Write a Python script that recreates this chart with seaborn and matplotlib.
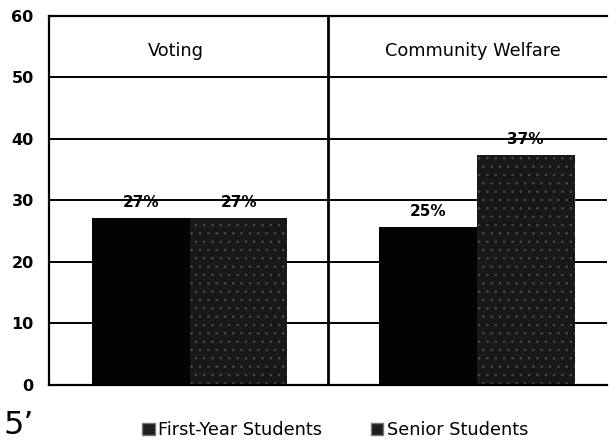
import matplotlib
matplotlib.use("Agg")
import matplotlib.pyplot as plt
import seaborn as sns
import pandas as pd
from matplotlib.patches import Patch

# --- data ---
categories = ["Voting", "Community Welfare"]
groups = ["First-Year Students", "Senior Students"]
first_year = [27.1, 25.6]
senior = [27.1, 37.4]
first_year_labels = ["27%", "25%"]
senior_labels = ["27%", "37%"]
y_ticks = [0, 10, 20, 30, 40, 50, 60]

df = pd.DataFrame({
    "Category": categories * 2,
    "Group": [groups[0]] * 2 + [groups[1]] * 2,
    "Value": first_year + senior,
})
labels = first_year_labels + senior_labels

sns.set_theme(style="white")
plt.rcParams['font.family'] = ['DejaVu Sans']
plt.rcParams['text.color'] = 'black'
plt.rcParams['ytick.color'] = 'black'
plt.rcParams['hatch.linewidth'] = 0.6

fig = plt.figure(figsize=(6.09, 4.40), dpi=100)
ax = fig.add_axes([0.0805, 0.126, 0.917, 0.838])

colors = {groups[0]: "#030303", groups[1]: "#181818"}
sns.barplot(data=df, x="Category", y="Value", hue="Group", order=categories,
            hue_order=groups, palette=colors, width=0.70, saturation=1,
            edgecolor="none", legend=False, ax=ax, zorder=2)

# speckled texture on the senior bars, small nudge of the groups
group_shift = [0.004, 0.032]
for bar, grp, cat in zip(ax.patches, df["Group"], df["Category"]):
    if grp == groups[1]:
        bar.set_hatch("..")
        bar.set_edgecolor("#4a4a4a")
        bar.set_linewidth(0)
    bar.set_x(bar.get_x() + group_shift[categories.index(cat)])

ax.set_ylim(0, 60)
ax.set_xlim(-0.5, 1.5)
ax.set_yticks(y_ticks)
ax.set_yticklabels([str(t) for t in y_ticks], fontsize=11.5, fontweight="bold")
ax.tick_params(axis="y", length=0, pad=11)
ax.set_xticks([])
ax.set_xlabel("")
ax.set_ylabel("")

for t in y_ticks[1:]:
    ax.axhline(t, color="black", lw=1.4, zorder=1)
ax.axvline(0.5, color="black", lw=2, zorder=3)

for s in ax.spines.values():
    s.set_color("black")
    s.set_linewidth(1.6)
ax.spines["right"].set_visible(False)

# panel titles
title_x = [-0.045, 1.017]
for x, c in zip(title_x, categories):
    ax.text(x, 54.2, c, ha="center", va="center", fontsize=12.8)

# value labels
for bar, lab in zip(ax.patches, labels):
    ax.text(bar.get_x() + bar.get_width() / 2, bar.get_height() + 2.5, lab,
            ha="center", va="center", fontsize=11, fontweight="bold", zorder=4)

handles = [Patch(facecolor="#1e1e1e", edgecolor="#777777", label=g) for g in groups]
fig.legend(handles=handles, loc="lower center", bbox_to_anchor=(0.551, -0.035),
           ncol=2, frameon=False, handlelength=0.68, handleheight=0.68,
           handletextpad=0.22, columnspacing=2.75, prop={"size": 12.8})

fig.text(0.006, 0.014, "5\u2019", fontsize=23, ha="left", va="baseline")

fig.savefig("out.png", dpi=100)
